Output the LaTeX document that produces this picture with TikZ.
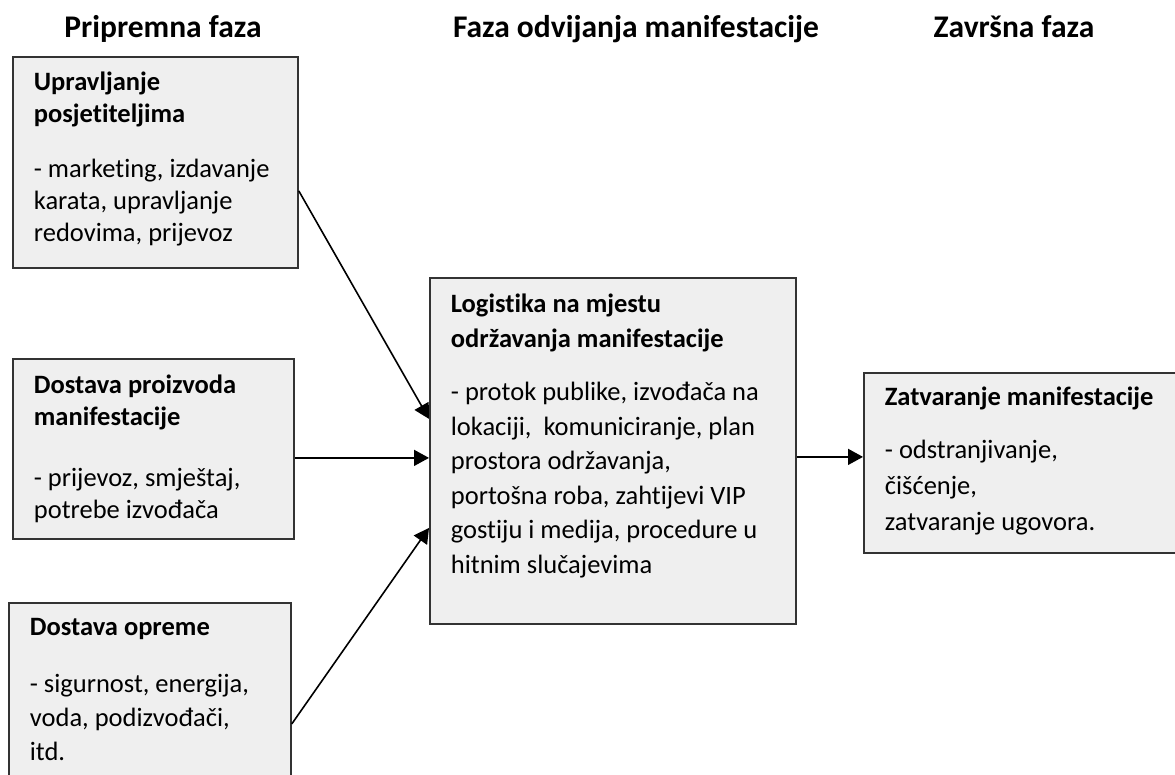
\documentclass[tikz,border=0pt]{standalone}
\usepackage{fontspec}
\setmainfont[Ligatures={NoCommon}]{Carlito}
\usetikzlibrary{arrows.meta}

\definecolor{boxgray}{HTML}{EFEFEF}
\definecolor{boxline}{HTML}{333333}

% height, width, first baseline, text
\newcommand{\boxtext}[4]{\parbox[c][#1][t]{#2}{\raggedright\rule{0pt}{#3}#4}}

\tikzset{
    phase/.style={anchor=base, font=\bfseries\fontsize{31.5}{36}\selectfont},
    okvir/.style={draw=boxline, fill=boxgray, line width=1.8pt, anchor=north west,
        inner xsep=21pt, inner ysep=0pt, font=\fontsize{26.5}{32}\selectfont},
    veza/.style={-{Triangle[length=15pt,width=16pt]}, line width=1.6pt}
}

\begin{document}
\begin{tikzpicture}[x=1pt,y=-1pt]
    \useasboundingbox (0,0) rectangle (1175,775);
    \clip (0,0) rectangle (1175,775);
    % Phases
    \node[phase] (prip) at (163,38) {Pripremna faza};
    \node[phase] (odv) at (636,38) {Faza odvijanja manifestacije};
    \node[phase] (zav) at (1014,38) {Završna faza};
    % Preparation
    \node[okvir] (posj) at (12,56) {\boxtext{211pt}{243pt}{34pt}{\textbf{Upravljanje}\\
        \textbf{posjetiteljima}\\[23pt]
        - marketing, izdavanje\\ karata, upravljanje\\ redovima, prijevoz}};
    \node[okvir] (proiz) at (12,358) {\boxtext{180pt}{239pt}{35pt}{\textbf{Dostava proizvoda}\\
        \textbf{manifestacije}\\[29pt]
        - prijevoz, smještaj,\\ potrebe izvođača}};
    \node[okvir] (oprema) at (8,602) {\boxtext{250pt}{240pt}{33pt}{\fontsize{26.5}{34}\selectfont
        \textbf{Dostava opreme}\\[23pt]
        - sigurnost, energija,\\ voda, podizvođači,\\ itd.}};
    % Event
    \node[okvir] (log) at (429,277) {\boxtext{346pt}{324pt}{35pt}{\fontsize{26.5}{34.5}\selectfont
        \textbf{Logistika na mjestu}\\ \textbf{održavanja manifestacije}\\[19pt]
        - protok publike, izvođača na\\ lokaciji,~ komuniciranje, plan\\
        prostora održavanja,\\ portošna roba, zahtijevi VIP\\
        gostiju i medija, procedure u\\ hitnim slučajevima}};
    % Closing
    \node[okvir] (zatv) at (863,372) {\boxtext{180pt}{340pt}{33pt}{\fontsize{26.5}{36}\selectfont
        \textbf{Zatvaranje manifestacije}\\[17pt]
        - odstranjivanje,\\ čišćenje,\\ zatvaranje ugovora.}};
    % Arrows
    \draw[veza] ([yshift=-28.5pt]posj.east) -- ([yshift=32pt]log.west);
    \draw[veza] ([yshift=-9pt]proiz.east) -- ([yshift=-7pt]log.west);
    \draw[veza] ([yshift=4pt]oprema.east) -- ([yshift=-77pt]log.west);
    \draw[veza] ([yshift=-6pt]log.east) -- ([yshift=6pt]zatv.west);
\end{tikzpicture}
\end{document}
